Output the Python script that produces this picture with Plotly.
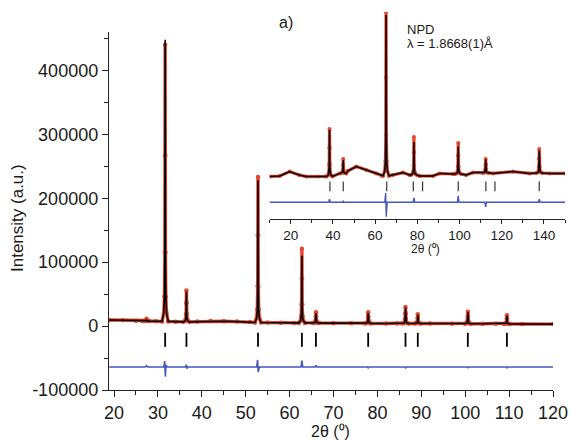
import plotly.graph_objects as go

# ---------------- X-ray pattern (main panel) ----------------
xrd_bg_2theta = [18.9, 22.0, 25.0, 26.4, 29.5, 34.0, 39.0, 42.0, 45.0, 48.0, 51.0,
                 55.0, 58.0, 61.0, 70.0, 74.0, 82.0, 84.5, 92.0, 97.0, 104.0, 107.0, 113.0, 120.0]
xrd_bg_int = [9500, 9000, 8200, 7900, 7500, 6700, 7000, 7800, 7600, 7000, 6200,
              5600, 5200, 5000, 4600, 4300, 4100, 4000, 4000, 3800, 3600, 3500, 3300, 3100]

xrd_peak_pos = [27.4, 31.65, 36.5, 52.8, 62.8, 66.0, 77.9, 86.4, 89.2, 100.6, 109.5]
xrd_peak_base = [7800, 7300, 6600, 5600, 5000, 4800, 4200, 4000, 4000, 3700, 3400]
xrd_peak_calc = [10500, 448000, 54000, 228000, 110000, 20000, 20500, 29000, 17500, 21500, 16000]
xrd_peak_obs = [11500, 440000, 55500, 233000, 121000, 21500, 21500, 30000, 18500, 22500, 17000]

xrd_bragg = [31.65, 36.5, 52.8, 62.8, 66.0, 77.9, 86.4, 89.2, 100.6, 109.5]

xrd_diff_2theta = [18.9, 27.1, 27.4, 27.7, 31.35, 31.55, 31.7, 31.85, 32.1, 36.3, 36.45, 36.6, 36.8,
                   52.5, 52.7, 52.85, 53.1, 62.6, 62.8, 63.0, 65.8, 66.0, 66.2, 77.7, 77.9, 78.1,
                   86.2, 86.4, 86.6, 100.4, 100.6, 100.8, 109.3, 109.5, 109.7, 120.0]
xrd_diff = [0, 0, 2000, 0, 0, 9000, -15000, 3000, 0, 0, 3500, -2500, 0,
            0, 11000, -8000, 0, 0, 10000, 0, 0, 2500, 0, 0, -1500, 0,
            0, -1500, 0, 0, -1200, 0, 0, -1500, 0, 0]

xrd_x_ticks = [20, 30, 40, 50, 60, 70, 80, 90, 100, 110, 120]
xrd_y_ticks = [-100000, 0, 100000, 200000, 300000, 400000]

# ---------------- Neutron pattern (inset) ----------------
npd_bg_2theta = [10.0, 14.8, 19.5, 24.0, 27.4, 33.0, 36.2, 47.0, 51.1, 55.8, 60.5, 63.0,
                 68.4, 73.2, 76.3, 81.1, 87.4, 90.6, 96.9, 103.2, 106.4, 115.9, 125.3,
                 133.2, 142.7, 150.0]
npd_bg_int = [920, 950, 1170, 1000, 920, 920, 930, 1200, 1420, 1250, 1080, 960,
              1000, 1120, 1000, 950, 950, 1080, 1050, 1000, 1120, 1080, 1170,
              1080, 1080, 1080]

npd_peak_pos = [38.4, 44.9, 65.2, 78.4, 99.4, 112.4, 137.8]
npd_peak_base = [930, 1080, 960, 1000, 1050, 1100, 1100]
npd_peak_calc = [3250, 1750, 9000, 2650, 2420, 1780, 2220]
npd_peak_obs = [3300, 1800, 9150, 2900, 2600, 1800, 2300]

npd_bragg = [38.6, 44.9, 65.5, 78.1, 82.5, 99.4, 112.5, 116.8, 137.8]

npd_diff_2theta = [10.0, 38.0, 38.4, 38.8, 44.6, 44.9, 45.2, 64.6, 65.0, 65.3, 65.7,
                   78.0, 78.4, 78.8, 99.0, 99.4, 99.8, 112.0, 112.4, 112.8,
                   137.4, 137.8, 138.2, 150.0]
npd_diff = [0, 0, 150, 0, 0, 80, 0, 0, 465, -720, 0,
            0, 220, 0, 0, 320, 0, 0, -230, 0,
            0, 150, 0, 0]

npd_x_ticks = [20, 40, 60, 80, 100, 120, 140]

# peak profile template (relative offsets in units of half-width, fraction of height)
PROFILE_OFFSET = [-1, -0.45, -0.22, -0.1, -0.04, 0, 0.04, 0.1, 0.22, 0.45, 1]
PROFILE_FRACTION = [0, 0.03, 0.09, 0.25, 0.6, 1, 0.6, 0.25, 0.09, 0.03, 0]

RED = "#e4462f"
BLUE = "#4657bd"
AXIS = "#222222"
FONT = "Arial, Liberation Sans, sans-serif"


def pattern(bg_x, bg_y, pos, base, top, half_width):
    pts = [(x, y) for x, y in zip(bg_x, bg_y)
           if all(abs(x - p) > half_width for p in pos)]
    for p, b, t in zip(pos, base, top):
        for off, frac in zip(PROFILE_OFFSET, PROFILE_FRACTION):
            pts.append((p + off * half_width, b + frac * (t - b)))
    pts.sort()
    return [p[0] for p in pts], [p[1] for p in pts]


W, H = 570, 440
main_x_dom = [109 / W, 553 / W]
main_y_dom = [(H - 390) / H, (H - 32) / H]
ins_x_dom = [269.6 / W, 565 / W]
ins_y_dom = [(H - 219) / H, (H - 12) / H]

XRD_DIFF_OFFSET = -64000
XRD_BRAGG_LEVEL = -21500
NPD_DIFF_OFFSET = -365
NPD_BRAGG_LEVEL = 432

fig = go.Figure()

# main panel
ox, oy = pattern(xrd_bg_2theta, xrd_bg_int, xrd_peak_pos, xrd_peak_base, xrd_peak_obs, 0.7)
cx, cy = pattern(xrd_bg_2theta, xrd_bg_int, xrd_peak_pos, xrd_peak_base, xrd_peak_calc, 0.7)
fig.add_trace(go.Scatter(x=ox, y=oy, mode="lines+markers",
                         line=dict(color=RED, width=3.4),
                         marker=dict(color=RED, size=4.5), hoverinfo="skip"))
fig.add_trace(go.Scatter(x=cx, y=cy, mode="lines", line=dict(color="black", width=1.6),
                         hoverinfo="skip"))
fig.add_trace(go.Scatter(x=xrd_bragg, y=[XRD_BRAGG_LEVEL] * len(xrd_bragg), mode="markers",
                         marker=dict(symbol="line-ns", size=10,
                                     line=dict(color="black", width=1.8)),
                         hoverinfo="skip"))
fig.add_trace(go.Scatter(x=xrd_diff_2theta, y=[d + XRD_DIFF_OFFSET for d in xrd_diff],
                         mode="lines", line=dict(color=BLUE, width=1.6), hoverinfo="skip"))

# inset
nox, noy = pattern(npd_bg_2theta, npd_bg_int, npd_peak_pos, npd_peak_base, npd_peak_obs, 1.4)
ncx, ncy = pattern(npd_bg_2theta, npd_bg_int, npd_peak_pos, npd_peak_base, npd_peak_calc, 1.4)
fig.add_trace(go.Scatter(x=nox, y=noy, mode="lines+markers", xaxis="x2", yaxis="y2",
                         line=dict(color=RED, width=3.2),
                         marker=dict(color=RED, size=4), hoverinfo="skip"))
fig.add_trace(go.Scatter(x=ncx, y=ncy, mode="lines", xaxis="x2", yaxis="y2",
                         line=dict(color="black", width=1.5), hoverinfo="skip"))
fig.add_trace(go.Scatter(x=npd_bragg, y=[NPD_BRAGG_LEVEL] * len(npd_bragg), mode="markers",
                         xaxis="x2", yaxis="y2",
                         marker=dict(symbol="line-ns", size=7,
                                     line=dict(color="#333333", width=1.2)),
                         hoverinfo="skip"))
fig.add_trace(go.Scatter(x=npd_diff_2theta, y=[d + NPD_DIFF_OFFSET for d in npd_diff],
                         mode="lines", xaxis="x2", yaxis="y2",
                         line=dict(color=BLUE, width=1.4), hoverinfo="skip"))

tick_font = dict(family=FONT, size=18, color="#1a1a1a")
fig.update_layout(
    width=W, height=H,
    margin=dict(l=0, r=0, t=0, b=0, autoexpand=False),
    paper_bgcolor="white", plot_bgcolor="rgba(0,0,0,0)",
    showlegend=False,
    font=dict(family=FONT, color="#1a1a1a"),
    xaxis=dict(domain=main_x_dom, range=[18.86, 120], anchor="y", automargin=False,
               showline=True, linecolor=AXIS, linewidth=1.4, mirror=False,
               showgrid=False, zeroline=False,
               ticks="outside", ticklen=6, tickwidth=1.4, tickcolor=AXIS,
               tickvals=xrd_x_ticks, ticktext=[str(v) for v in xrd_x_ticks],
               tickfont=tick_font,
               minor=dict(ticks="outside", ticklen=4, tickwidth=1.2, tickcolor=AXIS, dtick=5,
                          tick0=0, showgrid=False)),
    yaxis=dict(domain=main_y_dom, range=[-100000, 460000], anchor="x", automargin=False,
               showline=True, linecolor=AXIS, linewidth=1.4,
               showgrid=False, zeroline=False,
               ticks="outside", ticklen=6, tickwidth=1.4, tickcolor=AXIS,
               tickvals=xrd_y_ticks, ticktext=[str(v) for v in xrd_y_ticks],
               tickfont=tick_font,
               minor=dict(ticks="outside", ticklen=4, tickwidth=1.2, tickcolor=AXIS,
                          dtick=50000, tick0=0, showgrid=False)),
    xaxis2=dict(domain=ins_x_dom, range=[10, 150], anchor="y2", automargin=False,
                showline=True, linecolor=AXIS, linewidth=1.3,
                showgrid=False, zeroline=False,
                ticks="outside", ticklen=4, tickwidth=1.2, tickcolor=AXIS,
                tickvals=npd_x_ticks, ticktext=[str(v) for v in npd_x_ticks],
                tickfont=dict(family=FONT, size=13.5, color="#1a1a1a"),
                minor=dict(ticks="outside", ticklen=3, tickwidth=1.1, tickcolor=AXIS,
                           dtick=10, tick0=0, showgrid=False)),
    yaxis2=dict(domain=ins_y_dom, range=[-1200, 9150], anchor="x2", visible=False,
                automargin=False, showgrid=False, zeroline=False),
)

ann = [
    dict(text="Intensity (a.u.)", x=17 / W, y=(H - 218) / H, textangle=-90,
         font=dict(size=17)),
    dict(text="2θ (⁰)", x=330 / W, y=(H - 431) / H, font=dict(size=16)),
    dict(text="2θ (⁰)", x=425 / W, y=(H - 249) / H, font=dict(size=12)),
    dict(text="a)", x=286 / W, y=(H - 22) / H, font=dict(size=16)),
    dict(text="NPD", x=405 / W, y=(H - 29) / H, xanchor="left", font=dict(size=13)),
    dict(text="λ = 1.8668(1)Å", x=405 / W, y=(H - 43) / H, xanchor="left",
         font=dict(size=13)),
]
for a in ann:
    a.setdefault("xanchor", "center")
    fig.add_annotation(xref="paper", yref="paper", showarrow=False, yanchor="middle", **a)

fig.write_html("out.html")
